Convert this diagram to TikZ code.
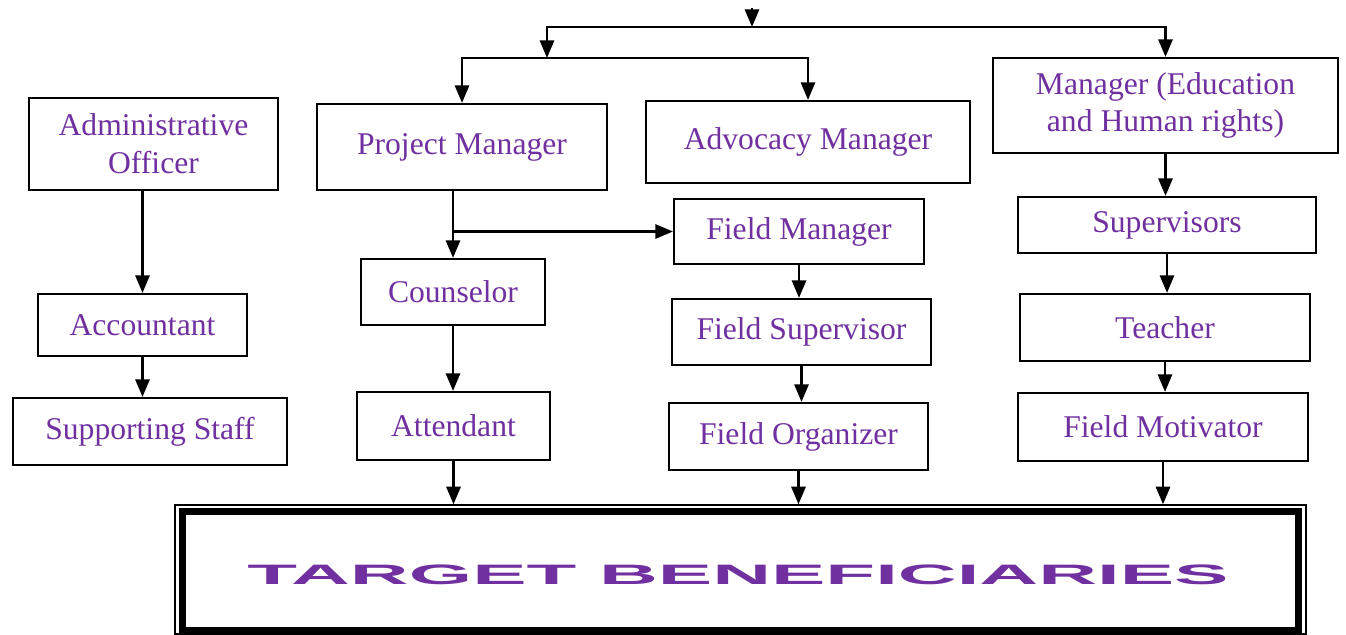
\documentclass[tikz,border=0pt]{standalone}
\usepackage{fontspec}
\setmainfont{Liberation Serif}
\newfontfamily\bannerfont{Liberation Sans}[FakeStretch=2.9]
\usetikzlibrary{arrows.meta}
\definecolor{orgpurple}{HTML}{7030A0}

\begin{document}
\begin{tikzpicture}[x=0.02cm, y=-0.02cm, font=\fontsize{18}{21.5}\selectfont,
	box/.style={draw, line width=1.2pt, text=orgpurple, align=center, inner sep=0pt},
	post/.style={-{Triangle[length=10pt, width=8pt]}, line width=1.5pt}]
	
	\useasboundingbox (0,0) rectangle (1346,635);
	
	\node[box, minimum width=4.98cm, minimum height=1.84cm] (adm) at (153.5,144) 	{Administrative\\Officer};
	\node[box, minimum width=4.18cm, minimum height=1.24cm] (acc) at (142.5,325) 	{Accountant};
	\node[box, minimum width=5.48cm, minimum height=1.34cm] (sup) at (150,431.5) 	{Supporting Staff};
	
	\node[box, minimum width=5.80cm, minimum height=1.72cm] (pm) at (462,147) 		{Project Manager};
	\node[box, minimum width=3.68cm, minimum height=1.32cm] (cou) at (453,292) 		{Counselor};
	\node[box, minimum width=3.86cm, minimum height=1.36cm] (att) at (453.5,426) 	{Attendant};
	
	\node[box, minimum width=6.48cm, minimum height=1.64cm] (adv) at (808,142) 		{Advocacy Manager};
	\node[box, minimum width=5.00cm, minimum height=1.30cm] (fm) at (799,231.5) 	{Field Manager};
	\node[box, minimum width=5.18cm, minimum height=1.32cm] (fs) at (801.5,332) 	{Field Supervisor};
	\node[box, minimum width=5.18cm, minimum height=1.34cm] (fo) at (798.5,436.5) 	{Field Organizer};
	
	\node[box, minimum width=6.90cm, minimum height=1.90cm] (edu) at (1165.5,105.5) {Manager (Education\\and Human rights)};
	\node[box, minimum width=5.96cm, minimum height=1.12cm] (svs) at (1167,225) 	{Supervisors};
	\node[box, minimum width=5.80cm, minimum height=1.34cm] (tea) at (1165,327.5) 	{Teacher};
	\node[box, minimum width=5.80cm, minimum height=1.36cm] (fmo) at (1163,427) 	{Field Motivator};
	
	\node[draw, line width=0.8pt, minimum width=22.62cm, minimum height=2.58cm, inner sep=0pt] (tb) at (740.5,569.5) {};
	\draw[line width=4pt] ([shift={(8,7)}]tb.north west) rectangle ([shift={(-8,-4)}]tb.south east);
	\node[text=orgpurple, font=\bannerfont\bfseries\fontsize{16}{18}\selectfont] (tbt) at (738,575) {TARGET BENEFICIARIES};
	
	\coordinate (top) at (752,8);
	\coordinate (fork) at (752,27);
	\coordinate (forkl) at (547,58);
	
	\draw[post] (top) -- (fork);
	\draw[post] (fork) -| (forkl);
	\draw[post] (fork) -| (edu);
	\draw[post] (forkl) -| (pm);
	\draw[post] (forkl) -| (adv);
	
	\draw[post] (adm.south -| acc.north) -- (acc.north);
	\draw[post] (acc) -- (acc |- sup.north);
	\draw[post] (pm.south -| cou.north) -- (cou.north);
	\draw[post] (cou.north |- fm.west) -- (fm.west);
	\draw[post] (cou) -- (cou |- att.north);
	\draw[post] (fm) -- (fm |- fs.north);
	\draw[post] (fs) -- (fs |- fo.north);
	\draw[post] (edu) -- (edu |- svs.north);
	\draw[post] (svs) -- (svs |- tea.north);
	\draw[post] (tea) -- (tea |- fmo.north);
	\draw[post] (att) -- (att |- tb.north);
	\draw[post] (fo) -- (fo |- tb.north);
	\draw[post] (fmo) -- (fmo |- tb.north);
\end{tikzpicture}
\end{document}
